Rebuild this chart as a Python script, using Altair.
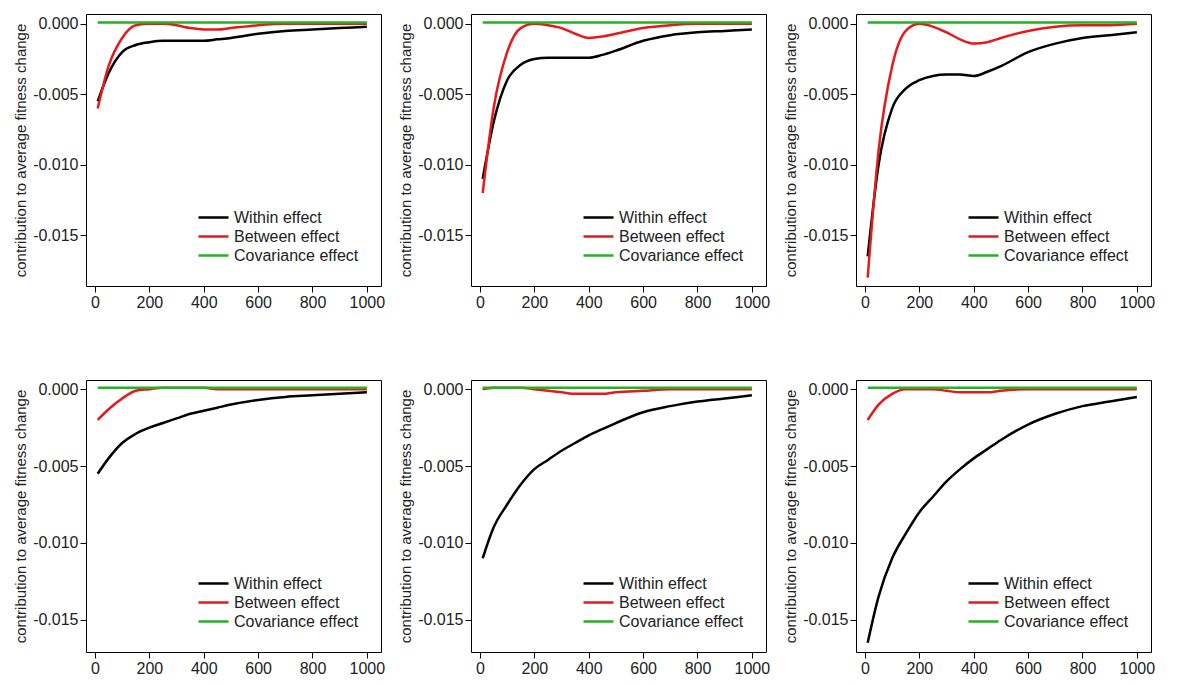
import altair as alt
import pandas as pd

X = [10, 50, 100, 150, 200, 250, 300, 350, 400, 450, 500, 600, 700, 800, 900, 1000]

# panels: top row left->right, then bottom row
WITHIN = [
    [-0.0055, -0.0035, -0.0020, -0.0015, -0.0013, -0.0012, -0.0012, -0.0012, -0.0012, -0.0011, -0.0010, -0.0007, -0.0005, -0.0004, -0.0003, -0.0002],
    [-0.0110, -0.0070, -0.0040, -0.0029, -0.0025, -0.0024, -0.0024, -0.0024, -0.0024, -0.0022, -0.0019, -0.0012, -0.0008, -0.0006, -0.0005, -0.0004],
    [-0.0165, -0.0100, -0.0060, -0.0046, -0.0040, -0.0037, -0.0036, -0.0036, -0.0037, -0.0034, -0.0030, -0.0020, -0.0014, -0.0010, -0.0008, -0.0006],
    [-0.0055, -0.0045, -0.0035, -0.0029, -0.0025, -0.0022, -0.0019, -0.0016, -0.0014, -0.0012, -0.0010, -0.0007, -0.0005, -0.0004, -0.0003, -0.0002],
    [-0.0110, -0.0090, -0.0075, -0.0062, -0.0052, -0.0046, -0.0040, -0.0035, -0.0030, -0.0026, -0.0022, -0.0015, -0.0011, -0.0008, -0.0006, -0.0004],
    [-0.0165, -0.0135, -0.0110, -0.0094, -0.0080, -0.0070, -0.0060, -0.0052, -0.0045, -0.0039, -0.0033, -0.0023, -0.0016, -0.0011, -0.0008, -0.0005],
]
BETWEEN = [
    [-0.0060, -0.0030, -0.0010, -0.0001, 0.0000, 0.0000, -0.0001, -0.0003, -0.0004, -0.0004, -0.0003, -0.0001, 0.0000, 0.0000, 0.0000, 0.0000],
    [-0.0120, -0.0060, -0.0020, -0.0003, 0.0000, -0.0001, -0.0003, -0.0007, -0.0010, -0.0009, -0.0007, -0.0003, -0.0001, 0.0000, 0.0000, 0.0000],
    [-0.0180, -0.0090, -0.0030, -0.0005, 0.0000, -0.0002, -0.0006, -0.0011, -0.0014, -0.0013, -0.0010, -0.0005, -0.0002, -0.0001, -0.0001, 0.0000],
    [-0.0020, -0.0013, -0.0006, -0.0001, 0.0000, 0.0001, 0.0001, 0.0001, 0.0001, 0.0000, 0.0000, 0.0000, 0.0000, 0.0000, 0.0000, 0.0000],
    [0.0000, 0.0001, 0.0001, 0.0001, 0.0000, -0.0001, -0.0002, -0.0003, -0.0003, -0.0003, -0.0002, -0.0001, 0.0000, 0.0000, 0.0000, 0.0000],
    [-0.0020, -0.0010, -0.0003, 0.0000, 0.0000, 0.0000, -0.0001, -0.0002, -0.0002, -0.0002, -0.0001, 0.0000, 0.0000, 0.0000, 0.0000, 0.0000],
]
COVARIANCE = [0.0001] * len(X)

SERIES = ["Within effect", "Between effect", "Covariance effect"]
COLORS = ["#000000", "#e41a1c", "#22b222"]
Y_DOMAINS = [[-0.0186, 0.0007], [-0.0171, 0.0006]]

FONT = "Liberation Sans"


def panel(i):
    rows = []
    for name, vals in zip(SERIES, [WITHIN[i], BETWEEN[i], COVARIANCE]):
        for x, v in zip(X, vals):
            rows.append({"x": x, "value": v, "series": name})
    frame = pd.DataFrame(rows)
    return alt.Chart(frame).mark_line(strokeWidth=2.5, interpolate="monotone").encode(
        x=alt.X("x:Q", title=None, scale=alt.Scale(domain=[-33, 1052], nice=False, zero=False),
                axis=alt.Axis(values=[0, 200, 400, 600, 800, 1000], format="d")),
        y=alt.Y("value:Q", title="contribution to average fitness change",
                scale=alt.Scale(domain=Y_DOMAINS[i // 3], nice=False, zero=False),
                axis=alt.Axis(values=[0, -0.005, -0.01, -0.015],
                              labelExpr="replace(format(datum.value, '.3f'), '\u2212', '-')")),
        color=alt.Color("series:N", sort=SERIES, scale=alt.Scale(domain=SERIES, range=COLORS),
                        legend=alt.Legend(title=None, orient="bottom-right", offset=22,
                                          symbolType="stroke", symbolSize=900, symbolStrokeWidth=2.5,
                                          labelFontSize=16, rowPadding=2, clipHeight=17)),
        order=alt.Order("x:Q"),
    ).properties(width=295, height=272)


top = alt.hconcat(*[panel(i) for i in range(3)], spacing=12).resolve_scale(color="independent")
bottom = alt.hconcat(*[panel(i) for i in range(3, 6)], spacing=12).resolve_scale(color="independent")
chart = alt.vconcat(top, bottom, spacing=68).resolve_scale(color="independent").configure_view(
    stroke="black", strokeWidth=1
).configure_axis(
    grid=False, domain=False, tickColor="black", labelColor="#222", labelFontSize=16,
    titleFontSize=15, titleFontWeight="normal", labelFont=FONT, titleFont=FONT, tickSize=6,
    titleColor="#222",
).configure_legend(labelFont=FONT, labelColor="#222")

chart.save("out.html", embed_options={"renderer": "svg", "actions": False})
